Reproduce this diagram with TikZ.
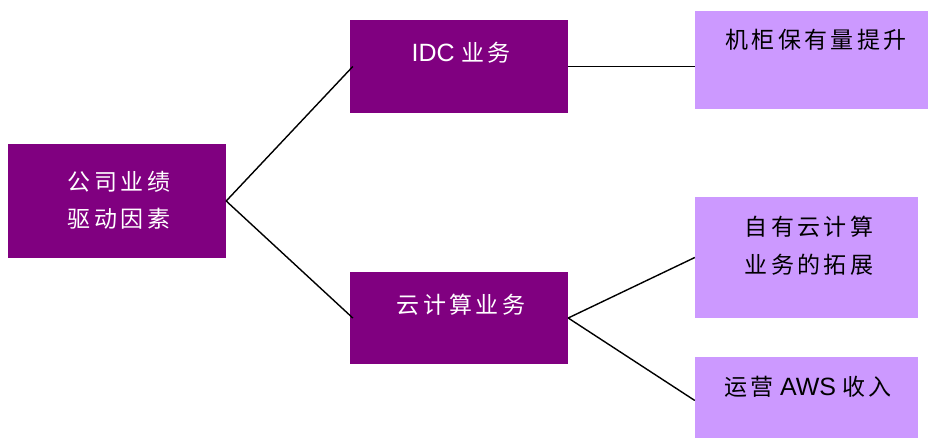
\documentclass[tikz,border=0pt]{standalone}
\usepackage{fontspec}
\setmainfont{Liberation Sans}
\newfontfamily\cjk[LetterSpace=15]{Noto Sans CJK SC}
\newcommand{\latinpart}[1]{{\fontsize{25}{37}\selectfont #1}}
\usetikzlibrary{calc}
\definecolor{deeppurple}{HTML}{800080}
\definecolor{lilac}{HTML}{CC99FF}
\tikzset{
  darkbox/.style={fill=deeppurple, draw=none, inner sep=0pt},
  lightbox/.style={fill=lilac, draw=none, inner sep=0pt},
  darktxt/.style={text=white, font=\fontsize{23}{37}\selectfont, align=center, inner sep=0pt},
  lighttxt/.style={text=black, font=\fontsize{23}{38}\selectfont, align=center, inner sep=0pt},
  link/.style={draw=black, line width=1.4pt}
}
\begin{document}
\begin{tikzpicture}[x=1pt,y=-1pt]
\useasboundingbox (0,0) rectangle (928,439);
% boxes
\node[darkbox, minimum width=218pt, minimum height=114pt] (root) at (117,201) {};
\node[darkbox, minimum width=218pt, minimum height=93pt] (idc) at (459,66.5) {};
\node[darkbox, minimum width=218pt, minimum height=92pt] (cloud) at (459,318) {};
\node[lightbox, minimum width=233pt, minimum height=98pt] (rack) at (811.5,60) {};
\node[lightbox, minimum width=223pt, minimum height=121pt] (own) at (806.5,257.5) {};
\node[lightbox, minimum width=223pt, minimum height=81pt] (aws) at (806.5,397.5) {};
% labels
\node[darktxt] (roottxt) at (119,200) {\cjk 公司业绩\\\cjk 驱动因素};
\node[darktxt] (idctxt) at (461,53) {\latinpart{IDC} {\cjk 业务}};
\node[darktxt] (cloudtxt) at (461,305) {\cjk 云计算业务};
\node[lighttxt] (racktxt) at (816,40) {\cjk 机柜保有量提升};
\node[lighttxt] (owntxt) at (809,246) {\cjk 自有云计算\\\cjk 业务的拓展};
\node[lighttxt] (awstxt) at (808,387) {{\cjk 运营} \latinpart{AWS} {\cjk 收入}};
% connectors
\draw[link] (root.east) -- ($(idc.west)+(3,0)$);
\draw[link] (root.east) -- ($(cloud.west)+(3,0)$);
\draw[link] (idc.east) -- (rack.west |- idc.east);
\draw[link] (cloud.east) -- (own.west);
\draw[link] (cloud.east) -- ($(aws.west)+(0,3)$);
\end{tikzpicture}
\end{document}
